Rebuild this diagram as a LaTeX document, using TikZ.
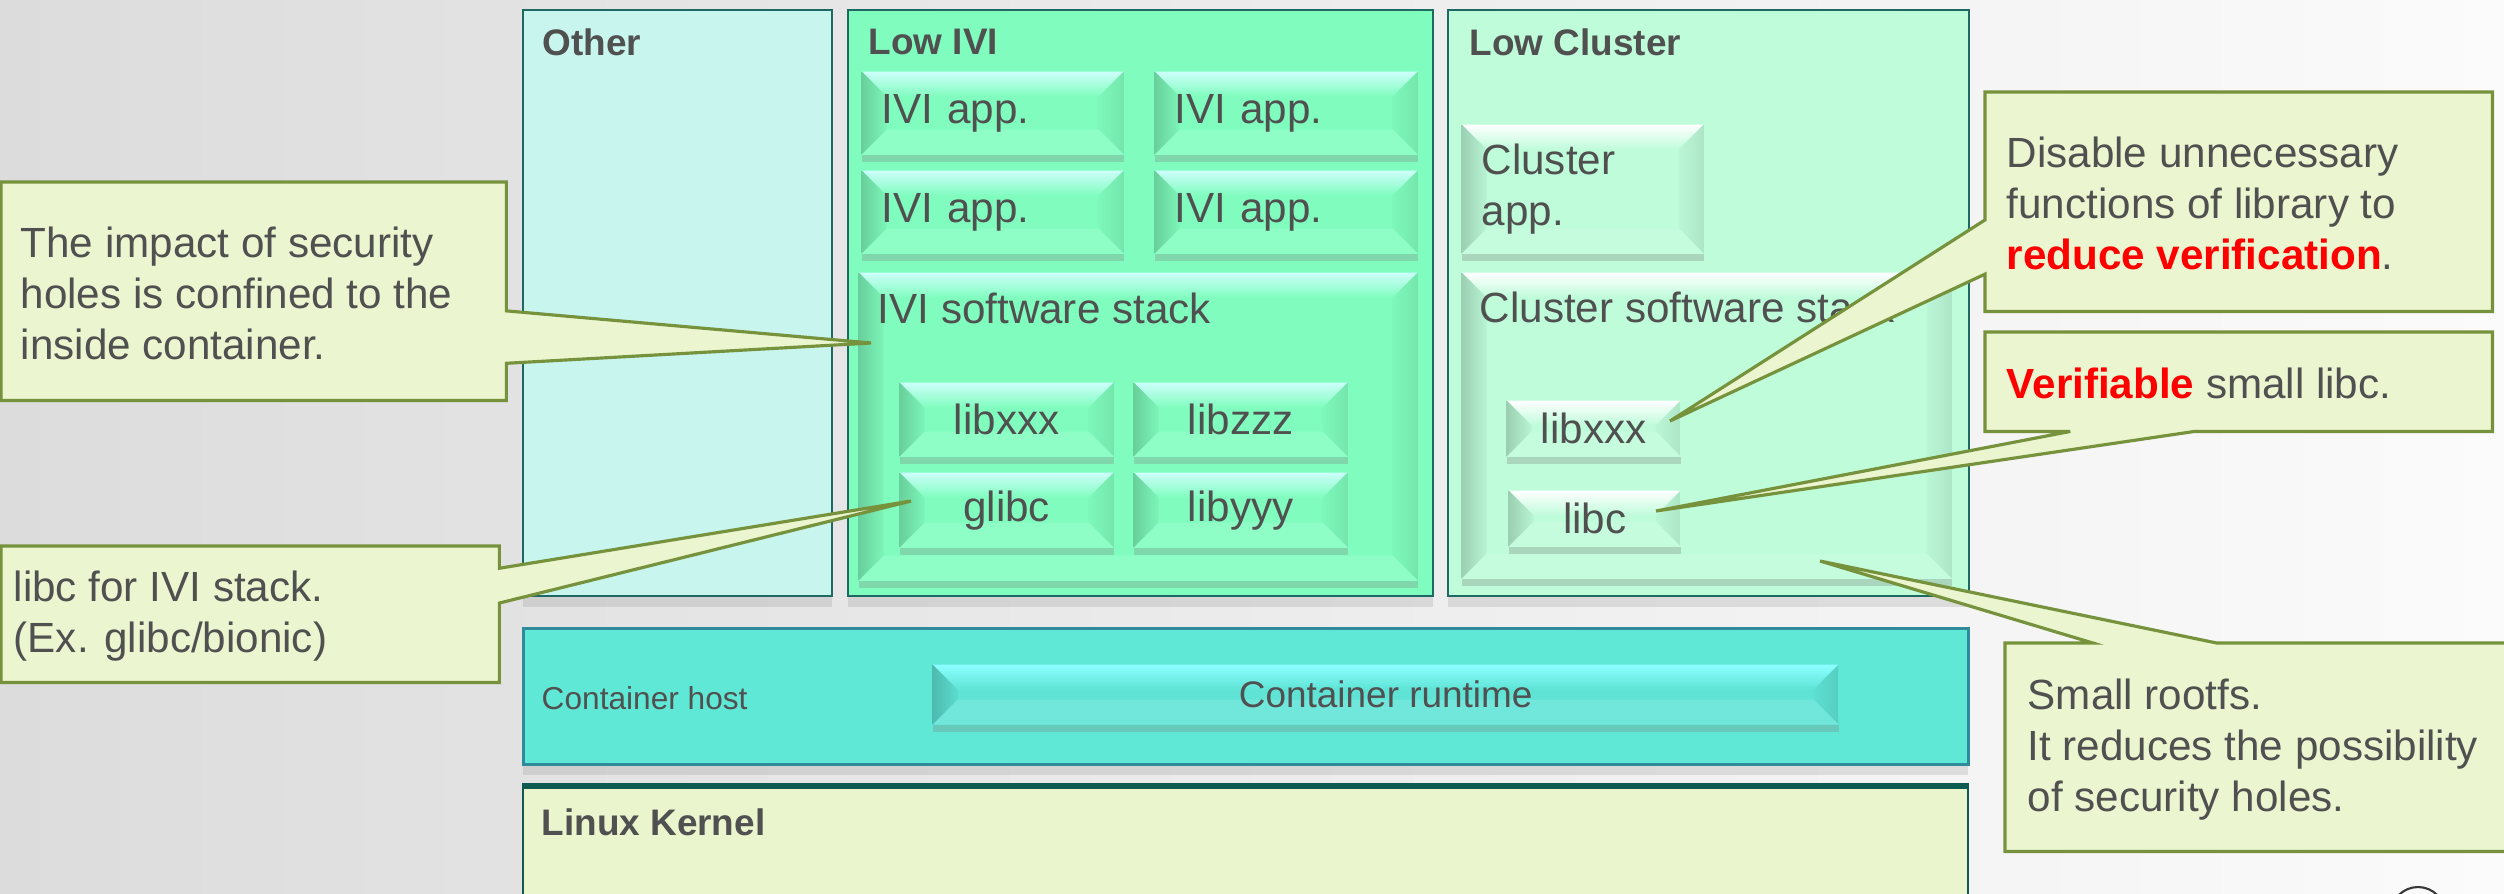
\documentclass[tikz,border=0pt]{standalone}
\usepackage{fontspec}
\setmainfont{Liberation Sans}
\usetikzlibrary{calc,shadows}

\definecolor{bgleft}{HTML}{DCDCDC}
\definecolor{bgright}{HTML}{FBFBFB}
\definecolor{txtcol}{HTML}{505050}
\definecolor{boxline}{HTML}{1E6A62}
\definecolor{othercol}{HTML}{C8F6EE}
\definecolor{ivicol}{HTML}{80FDBE}
\definecolor{ivitop}{HTML}{CCFFFA}
\definecolor{clustercol}{HTML}{BEFCDA}
\definecolor{cltop}{HTML}{FFFFFF}
\definecolor{hostcol}{HTML}{60E8D6}
\definecolor{hostline}{HTML}{2F8A9C}
\definecolor{runtimecol}{HTML}{5EE3D5}
\definecolor{runtimetop}{HTML}{8CFFFF}
\definecolor{kernelcol}{HTML}{EAF5CE}
\definecolor{kernelline}{HTML}{0E5B52}
\definecolor{notecol}{HTML}{EBF5CF}
\definecolor{noteline}{HTML}{76923C}
\definecolor{hilite}{HTML}{FF0000}

\tikzset{
  wh/.style 2 args={minimum width=#1*0.01cm, minimum height=#2*0.01cm},
  txt/.style={text=txtcol, inner sep=0pt, font=\fontsize{12}{14.5}\selectfont},
  boxtitle/.style={txt, anchor=west, font=\fontsize{10.5}{12.5}\selectfont\bfseries},
  container/.style={draw=boxline, line width=0.6pt, anchor=north west, inner sep=0pt,
    drop shadow={shadow xshift=0pt, shadow yshift=-3pt, opacity=0.2}},
  bevelbox/.style 2 args={anchor=north west, fill=#1, txt,
    drop shadow={shadow xshift=0pt, shadow yshift=-2pt, opacity=0.3},
    path picture={
      \coordinate (bnw) at (path picture bounding box.north west);
      \coordinate (bne) at (path picture bounding box.north east);
      \coordinate (bse) at (path picture bounding box.south east);
      \coordinate (bsw) at (path picture bounding box.south west);
      \fill[top color=#2, bottom color=#1] (bnw) -- (bne) -- ($(bne)+(-25,25)$) -- ($(bnw)+(25,25)$) -- cycle;
      \fill[left color=#1!82!black, right color=#1!97!black] (bnw) -- ($(bnw)+(25,25)$) -- ($(bsw)+(25,-25)$) -- (bsw) -- cycle;
      \fill[left color=#1!98!black, right color=#1!91!black] (bne) -- ($(bne)+(-25,25)$) -- ($(bse)+(-25,-25)$) -- (bse) -- cycle;
      \fill[#1!88!white] (bsw) -- ($(bsw)+(25,-25)$) -- ($(bse)+(-25,-25)$) -- (bse) -- cycle;
    }},
  notebox/.style={anchor=north west, inner sep=0pt},
  noteshape/.style={fill=notecol, draw=noteline, line width=0.9pt, line join=miter},
  notetxt/.style={txt, anchor=west, align=left},
}

\begin{document}
\begin{tikzpicture}[x=0.01cm, y=-0.01cm]
  \clip (0,0) rectangle (2504,893);
  \fill[left color=bgleft, right color=bgright] (0,0) rectangle (2504,893);

  % containers
  \node[container, fill=othercol, wh={309}{586}] (other) at (522,9) {};
  \node[container, fill=ivicol, wh={585}{586}] (lowivi) at (847,9) {};
  \node[container, fill=clustercol, wh={521}{586}] (lowcluster) at (1447,9) {};
  \node[boxtitle] at ($(other.north west)+(20,33)$) {Other};
  \node[boxtitle] at ($(lowivi.north west)+(21,33)$) {Low IVI};
  \node[boxtitle] at ($(lowcluster.north west)+(22,33)$) {Low Cluster};

  % IVI side
  \node[bevelbox={ivicol}{ivitop}, wh={262}{83}, text width=2.22cm, align=left] (iviapp1) at (861,71) {IVI app.};
  \node[bevelbox={ivicol}{ivitop}, wh={263}{83}, text width=2.23cm, align=left] (iviapp2) at (1154,71) {IVI app.};
  \node[bevelbox={ivicol}{ivitop}, wh={262}{83}, text width=2.22cm, align=left] (iviapp3) at (861,170) {IVI app.};
  \node[bevelbox={ivicol}{ivitop}, wh={263}{83}, text width=2.23cm, align=left] (iviapp4) at (1154,170) {IVI app.};
  \node[bevelbox={ivicol}{ivitop}, wh={559}{308}] (ivistack) at (858,272) {};
  \node[txt, anchor=west] at ($(ivistack.north west)+(19,36)$) {IVI software stack};
  \node[bevelbox={ivicol}{ivitop}, wh={214}{74}] (ivilibx) at (899,382) {libxxx};
  \node[bevelbox={ivicol}{ivitop}, wh={214}{74}] (ivilibz) at (1133,382) {libzzz};
  \node[bevelbox={ivicol}{ivitop}, wh={214}{75}] (glibc) at (899,472) {glibc};
  \node[bevelbox={ivicol}{ivitop}, wh={214}{75}] (ivilibyyy) at (1133,472) {libyyy};

  % Cluster side
  \node[bevelbox={clustercol}{cltop}, wh={242}{129}, text width=2.02cm, align=left] (clapp) at (1461,124) {Cluster\\app.};
  \node[bevelbox={clustercol}{cltop}, wh={490}{306}] (clstack) at (1461,272) {};
  \node[txt, anchor=west] at ($(clstack.north west)+(18,35)$) {Cluster software stack};
  \node[bevelbox={clustercol}{cltop}, wh={174}{56}] (cllibx) at (1506,400) {libxxx};
  \node[bevelbox={clustercol}{cltop}, wh={172}{56}] (cllibc) at (1508,490) {libc};

  % host and kernel
  \node[container, draw=hostline, line width=0.8pt, fill=hostcol, wh={1445}{136}] (host) at (522,627) {};
  \node[txt, anchor=west, font=\fontsize{9}{11}\selectfont] at ($(host.west)+(19,2)$) {Container host};
  \node[bevelbox={runtimecol}{runtimetop}, wh={906}{60}, font=\fontsize{10.5}{12.5}\selectfont] (runtime) at (932,664) {Container runtime};
  \node[anchor=north west, draw=kernelline, line width=0.6pt, fill=kernelcol, inner sep=0pt, wh={1445}{130}] (kernel) at (522,786) {};
  \draw[kernelline, line width=1.6pt] (kernel.north west) -- (kernel.north east);
  \node[boxtitle] at ($(kernel.north west)+(19,36)$) {Linux Kernel};

  % callouts
  \coordinate (tipimpact) at (871,343);
  \coordinate (tipglibc) at (911,501);
  \coordinate (tipdisable) at (1670,421);
  \coordinate (tipverify) at (1656,511);
  \coordinate (tiprootfs) at (1820,561);

  \node[notebox, wh={504}{217}] (noteimpact) at (1,182) {};
  \filldraw[noteshape] (noteimpact.north west) -- (noteimpact.north east)
    -- ($(noteimpact.north east)!0.59!(noteimpact.south east)$) -- (tipimpact)
    -- ($(noteimpact.north east)!0.83!(noteimpact.south east)$) -- (noteimpact.south east)
    -- (noteimpact.south west) -- cycle;
  \node[notetxt] at ($(noteimpact.west)+(19,2)$) {The impact of security\\holes is confined to the\\inside container.};

  \node[notebox, wh={497}{135}] (noteglibc) at (1,546) {};
  \filldraw[noteshape] (noteglibc.north west) -- (noteglibc.north east)
    -- ($(noteglibc.north east)!0.163!(noteglibc.south east)$) -- (tipglibc)
    -- ($(noteglibc.north east)!0.418!(noteglibc.south east)$) -- (noteglibc.south east)
    -- (noteglibc.south west) -- cycle;
  \node[notetxt] at ($(noteglibc.west)+(12,2)$) {libc for IVI stack.\\(Ex. glibc/bionic)};

  \node[notebox, wh={506}{218}] (notedisable) at (1985,92) {};
  \filldraw[noteshape] (notedisable.north west) -- (notedisable.north east)
    -- (notedisable.south east) -- (notedisable.south west)
    -- ($(notedisable.north west)!0.83!(notedisable.south west)$) -- (tipdisable)
    -- ($(notedisable.north west)!0.583!(notedisable.south west)$) -- cycle;
  \node[notetxt] at ($(notedisable.west)+(21,2)$) {Disable unnecessary\\functions of library to\\{\color{hilite}\bfseries reduce verification}.};

  \node[notebox, wh={506}{98}] (noteverify) at (1985,332) {};
  \filldraw[noteshape] (noteverify.north west) -- (noteverify.north east)
    -- (noteverify.south east) -- ($(noteverify.south west)!0.413!(noteverify.south east)$)
    -- (tipverify) -- ($(noteverify.south west)!0.168!(noteverify.south east)$)
    -- (noteverify.south west) -- cycle;
  \node[notetxt] at ($(noteverify.west)+(21,2)$) {{\color{hilite}\bfseries Verifiable} small libc.};

  \node[notebox, wh={515}{207}] (noterootfs) at (2005,643) {};
  \filldraw[noteshape] (noterootfs.north west)
    -- ($(noterootfs.north west)!0.17!(noterootfs.north east)$) -- (tiprootfs)
    -- ($(noterootfs.north west)!0.41!(noterootfs.north east)$) -- (noterootfs.north east)
    -- (noterootfs.south east) -- (noterootfs.south west) -- cycle;
  \node[notetxt] at ($(noterootfs.west)+(22,2)$) {Small rootfs.\\It reduces the possibility\\of security holes.};

  % logo edge
  \draw[txtcol!70!black, line width=0.6pt] (2418,914) circle (27);
\end{tikzpicture}
\end{document}
